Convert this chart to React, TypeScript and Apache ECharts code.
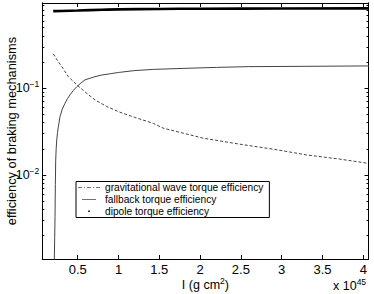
import { useEffect, useRef } from "react";
import * as echarts from "echarts";

// x values in units of 1e45 g cm^2
const gwX = [0.201, 0.25, 0.304, 0.385, 0.5, 0.6, 0.712, 0.85, 0.998, 1.2, 1.426, 1.549, 2.04, 2.489, 2.897, 3.306, 3.714, 4.06];
const gwY = [0.249, 0.21, 0.178, 0.136, 0.107, 0.089, 0.0733, 0.062, 0.0537, 0.046, 0.0394, 0.0346, 0.0265, 0.0226, 0.0198, 0.017, 0.0152, 0.0136];

const fbX = [0.205, 0.213, 0.218, 0.222, 0.226, 0.23, 0.236, 0.243, 0.253, 0.263, 0.283, 0.31, 0.344, 0.375, 0.405, 0.445, 0.488, 0.54, 0.59, 0.7, 0.794, 0.9, 0.998, 1.2, 1.43, 1.84, 2.2, 2.59, 3.3, 4.07];
const fbY = [0.0008, 0.001, 0.00188, 0.0033, 0.0077, 0.0145, 0.02, 0.0253, 0.031, 0.036, 0.047, 0.057, 0.067, 0.076, 0.0837, 0.094, 0.104, 0.115, 0.125, 0.135, 0.142, 0.147, 0.152, 0.16, 0.165, 0.17, 0.174, 0.1775, 0.179, 0.181];

const dipX = [0.2, 0.3, 0.5, 0.8, 1.0, 1.5, 2.0, 3.0, 4.06];
const dipY = [0.775, 0.78, 0.789, 0.804, 0.812, 0.822, 0.827, 0.831, 0.834];

const xTicks = [0.5, 1, 1.5, 2, 2.5, 3, 3.5, 4];
const yMajor = [0.01, 0.1];
const yMinor = [0.002, 0.003, 0.004, 0.005, 0.006, 0.007, 0.008, 0.009, 0.02, 0.03, 0.04, 0.05, 0.06, 0.07, 0.08, 0.09, 0.2, 0.3, 0.4, 0.5, 0.6, 0.7, 0.8, 0.9];

const names = ["gravitational wave torque efficiency", "fallback torque efficiency", "dipole torque efficiency"];

const FONT = "Liberation Sans";
const zip = (xs: number[], ys: number[]) => xs.map((x, i) => [x, ys[i]]);

export default function App() {
  const ref = useRef<HTMLDivElement>(null);
  useEffect(() => {
    const chart = echarts.init(ref.current!, null, { renderer: "svg" });
    const yBase = {
      type: "log" as const,
      logBase: 10,
      min: 0.00107,
      max: 0.963,
      splitLine: { show: false },
      axisLine: { show: true, lineStyle: { color: "#000", width: 1 } },
    };
    const xBase = {
      type: "value" as const,
      min: 0.066,
      max: 4.064,
      splitLine: { show: false },
      axisLine: { show: true, lineStyle: { color: "#000", width: 1 } },
    };
    const supRich = {
      b: { fontFamily: FONT, fontSize: 12.5, color: "#000" },
      s: { fontFamily: FONT, fontSize: 8.5, color: "#000", padding: [0, 0, 8, 0] },
    };
    chart.setOption({
      animation: false,
      textStyle: { fontFamily: FONT },
      grid: { left: 42.3, right: 5.5, top: 3, bottom: 35, containLabel: false, outerBoundsMode: "none" },
      xAxis: [
        {
          ...xBase,
          position: "bottom",
          name: "I (g cm{s|2})",
          nameLocation: "middle",
          nameGap: 17,
          nameMoveOverlap: false,
          nameTextStyle: { fontFamily: FONT, fontSize: 12.5, color: "#000", rich: { s: { fontFamily: FONT, fontSize: 8.5, color: "#000", padding: [0, 0, 8, 0] } } },
          axisTick: { show: true, inside: true, length: 4, customValues: xTicks, lineStyle: { color: "#000" } },
          axisLabel: {
            show: true,
            customValues: xTicks,
            margin: 3.5,
            fontFamily: FONT,
            fontSize: 13,
            color: "#000",
            formatter: (v: number) => String(v),
          },
        },
        {
          ...xBase,
          position: "top",
          axisTick: { show: true, inside: true, length: 4, customValues: xTicks, lineStyle: { color: "#000" } },
          axisLabel: { show: false },
        },
      ],
      yAxis: [
        {
          ...yBase,
          position: "left",
          name: "efficiency of braking mechanisms",
          nameLocation: "middle",
          nameGap: 24.5,
          nameMoveOverlap: false,
          nameTextStyle: { fontFamily: FONT, fontSize: 12.8, color: "#000" },
          axisTick: { show: true, inside: true, length: 4, customValues: yMajor, lineStyle: { color: "#000" } },
          axisLabel: {
            show: true,
            customValues: yMajor,
            margin: 3,
            formatter: (v: number) => "{b|10}{s|−" + Math.round(-Math.log10(v)) + "}",
            rich: supRich,
          },
        },
        {
          ...yBase,
          position: "left",
          axisTick: { show: true, inside: true, length: 2, customValues: yMinor, lineStyle: { color: "#000" } },
          axisLabel: { show: false },
        },
        {
          ...yBase,
          position: "right",
          axisTick: { show: true, inside: true, length: 4, customValues: yMajor, lineStyle: { color: "#000" } },
          axisLabel: { show: false },
        },
        {
          ...yBase,
          position: "right",
          axisTick: { show: true, inside: true, length: 2, customValues: yMinor, lineStyle: { color: "#000" } },
          axisLabel: { show: false },
        },
      ],
      legend: {
        orient: "vertical",
        left: 76,
        top: 181.5,
        padding: [0, 6, 0, 2],
        itemGap: 0,
        itemWidth: 22,
        itemHeight: 7,
        borderColor: "#000",
        borderWidth: 1,
        backgroundColor: "#fff",
        itemStyle: { borderWidth: 0 },
        textStyle: { fontFamily: FONT, fontSize: 10.2, lineHeight: 12, color: "#000", padding: [0, 0, 0, 0] },
        data: [
          { name: names[0], icon: "path://M0,0h0.01v0.01h-0.01z M22,7h-0.01v-0.01h0.01z M0,3h4v0.8h-4z M6,3h1v0.8h-1z M9,3h4v0.8h-4z M15,3h1v0.8h-1z M18,3h4v0.8h-4z" },
          { name: names[1], icon: "path://M0,0h0.01v0.01h-0.01z M22,7h-0.01v-0.01h0.01z M4,3h14v0.8h-14z" },
          { name: names[2], icon: "path://M0,0h0.01v0.01h-0.01z M22,7h-0.01v-0.01h0.01z M10.2,2.5h1.6v1.6h-1.6z" },
        ],
      },
      graphic: [
        {
          type: "text",
          left: 333,
          top: 277,
          style: {
            text: "x 10{s|45}",
            fontFamily: FONT,
            fontSize: 12.5,
            fill: "#000",
            rich: { s: { fontFamily: FONT, fontSize: 8.5, fill: "#000", padding: [0, 0, 8, 0] } },
          },
        },
      ],
      series: [
        {
          name: names[0],
          type: "line",
          xAxisIndex: 0,
          yAxisIndex: 0,
          symbol: "none",
          data: zip(gwX, gwY),
          color: "#444",
          lineStyle: { color: "#444", width: 1, type: [3, 2] },
          clip: true,
        },
        {
          name: names[1],
          type: "line",
          xAxisIndex: 0,
          yAxisIndex: 0,
          symbol: "none",
          data: zip(fbX, fbY),
          color: "#444",
          lineStyle: { color: "#444", width: 1 },
          clip: true,
        },
        {
          name: names[2],
          type: "line",
          xAxisIndex: 0,
          yAxisIndex: 0,
          symbol: "none",
          smooth: true,
          data: zip(dipX, dipY),
          color: "#000",
          lineStyle: { color: "#000", width: 2.6 },
          clip: true,
        },
      ],
    });
    return () => chart.dispose();
  }, []);
  return <div ref={ref} style={{ width: 374, height: 294, position: "absolute", left: 0, top: 0 }} />;
}
